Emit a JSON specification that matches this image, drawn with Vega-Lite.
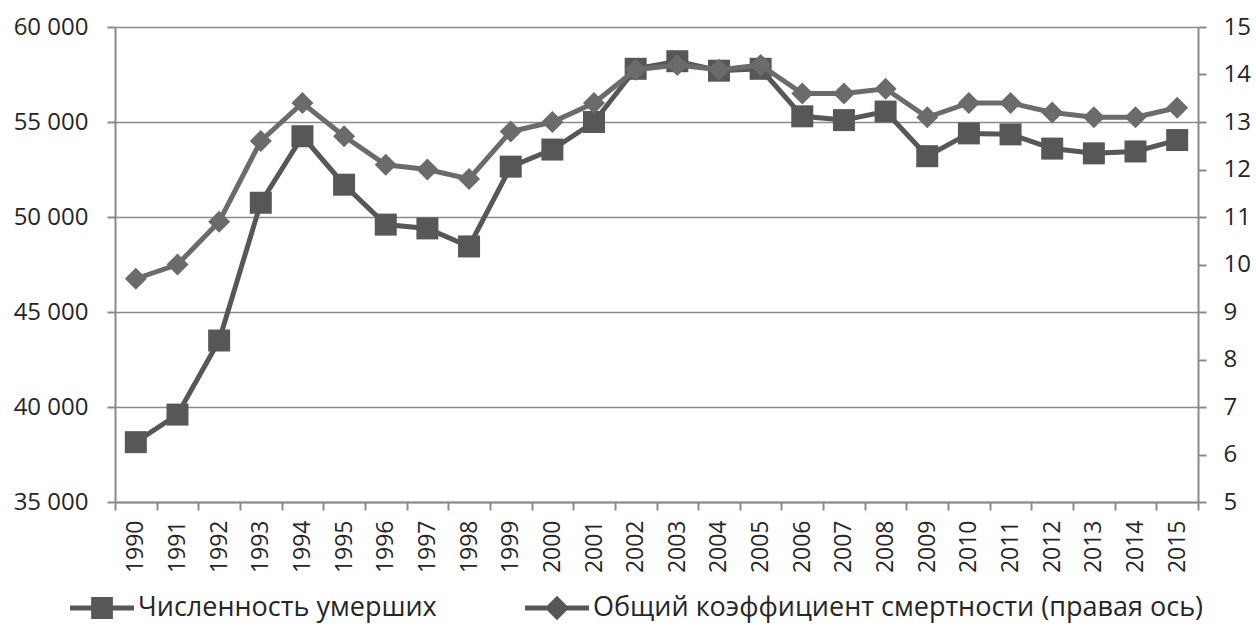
{
  "$schema": "https://vega.github.io/schema/vega-lite/v6.json",
  "width": 1083,
  "height": 475,
  "autosize": {"type": "none"},
  "padding": {"left": 115, "top": 27, "right": 58, "bottom": 135},
  "background": "white",
  "config": {
    "view": {"stroke": null},
    "font": "Open Sans",
    "axis": {"labelFont": "Open Sans", "labelColor": "#262626", "domainColor": "#8a8a8a", "tickColor": "#8a8a8a", "domainWidth": 2, "tickWidth": 2, "tickSize": 8, "gridColor": "#8a8a8a", "gridWidth": 1.6, "gridOpacity": 1, "title": null}
  },
  "data": {
    "values": [
      {"year": "1990", "deaths": 38150, "rate": 9.7},
      {"year": "1991", "deaths": 39600, "rate": 10.0},
      {"year": "1992", "deaths": 43500, "rate": 10.9},
      {"year": "1993", "deaths": 50750, "rate": 12.6},
      {"year": "1994", "deaths": 54250, "rate": 13.4},
      {"year": "1995", "deaths": 51700, "rate": 12.7},
      {"year": "1996", "deaths": 49600, "rate": 12.1},
      {"year": "1997", "deaths": 49400, "rate": 12.0},
      {"year": "1998", "deaths": 48450, "rate": 11.8},
      {"year": "1999", "deaths": 52650, "rate": 12.8},
      {"year": "2000", "deaths": 53550, "rate": 13.0},
      {"year": "2001", "deaths": 55000, "rate": 13.4},
      {"year": "2002", "deaths": 57800, "rate": 14.1},
      {"year": "2003", "deaths": 58200, "rate": 14.2},
      {"year": "2004", "deaths": 57700, "rate": 14.1},
      {"year": "2005", "deaths": 57800, "rate": 14.2},
      {"year": "2006", "deaths": 55300, "rate": 13.6},
      {"year": "2007", "deaths": 55100, "rate": 13.6},
      {"year": "2008", "deaths": 55550, "rate": 13.7},
      {"year": "2009", "deaths": 53200, "rate": 13.1},
      {"year": "2010", "deaths": 54400, "rate": 13.4},
      {"year": "2011", "deaths": 54350, "rate": 13.4},
      {"year": "2012", "deaths": 53600, "rate": 13.2},
      {"year": "2013", "deaths": 53350, "rate": 13.1},
      {"year": "2014", "deaths": 53450, "rate": 13.1},
      {"year": "2015", "deaths": 54050, "rate": 13.3}
    ]
  },
  "encoding": {
    "x": {
      "field": "year",
      "type": "ordinal",
      "scale": {"type": "band", "paddingInner": 0, "paddingOuter": 0},
      "axis": {"labelAngle": -90, "labelFontSize": 23, "labelPadding": 10, "tickBand": "extent", "grid": false}
    }
  },
  "layer": [
    {
      "encoding": {
        "y": {
          "field": "deaths",
          "type": "quantitative",
          "scale": {"domain": [35000, 60000], "nice": false, "zero": false},
          "axis": {"orient": "left", "values": [35000, 40000, 45000, 50000, 55000, 60000], "grid": true, "labelFontSize": 24, "labelPadding": 19, "labelExpr": "replace(format(datum.value, ','), ',', ' ')"}
        }
      },
      "layer": [
        {"mark": {"type": "line", "color": "#575757", "strokeWidth": 5}},
        {"mark": {"type": "point", "shape": "square", "filled": true, "size": 484, "color": "#575757", "opacity": 1}},
        {
          "mark": {"type": "point", "filled": true, "size": 4, "color": "#575757", "opacity": 0},
          "encoding": {
            "shape": {
              "datum": "Численность умерших",
              "scale": {
                "domain": ["Численность умерших", "Общий коэффициент смертности (правая ось)"],
                "range": ["M-1,-0.08H1V0.08H-1ZM-0.34,-0.34H0.34V0.34H-0.34Z", "M-1,-0.08H1V0.08H-1ZM0,-0.38L0.38,0L0,0.38L-0.38,0Z"]
              },
              "legend": {
                "orient": "none",
                "legendX": -45,
                "legendY": 549,
                "direction": "horizontal",
                "title": null,
                "padding": 0,
                "labelFont": "Open Sans",
                "labelFontSize": 27,
                "labelColor": "#262626",
                "labelLimit": 1000,
                "labelOffset": 4,
                "columnPadding": 88,
                "symbolSize": 4096,
                "symbolOpacity": 1,
                "symbolStrokeWidth": 0,
                "encode": {
                  "symbols": {
                    "update": {
                      "fill": {"signal": "datum.value === 'Численность умерших' ? '#575757' : '#6b6b6b'"},
                      "fillOpacity": {"value": 1},
                      "opacity": {"value": 1},
                      "strokeWidth": {"value": 0},
                      "size": {"value": 4096}
                    }
                  }
                }
              }
            }
          }
        }
      ]
    },
    {
      "encoding": {
        "y": {
          "field": "rate",
          "type": "quantitative",
          "scale": {"domain": [5, 15], "nice": false, "zero": false},
          "axis": {"orient": "right", "values": [5, 6, 7, 8, 9, 10, 11, 12, 13, 14, 15], "grid": false, "labelFontSize": 24, "labelPadding": 17}
        }
      },
      "layer": [
        {"mark": {"type": "line", "color": "#6b6b6b", "strokeWidth": 5}},
        {"mark": {"type": "point", "shape": "diamond", "filled": true, "size": 484, "color": "#6b6b6b", "opacity": 1}},
        {
          "mark": {"type": "point", "filled": true, "size": 4, "color": "#6b6b6b", "opacity": 0},
          "encoding": {
            "shape": {"datum": "Общий коэффициент смертности (правая ось)"}
          }
        }
      ]
    }
  ],
  "resolve": {"scale": {"y": "independent"}}
}
